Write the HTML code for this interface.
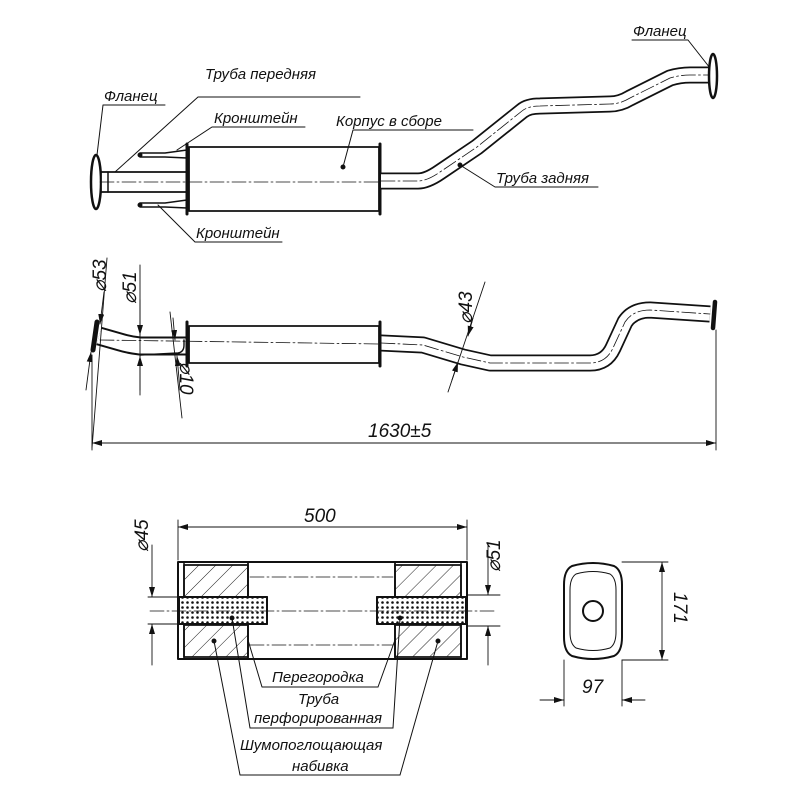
<!DOCTYPE html>
<html><head><meta charset="utf-8"><style>
html,body{margin:0;padding:0;background:#fff}
svg{display:block}
text{font-family:"Liberation Sans",sans-serif;font-style:italic;font-size:15px;fill:#111}
.dm{font-size:19px}
</style></head><body>
<svg width="800" height="800" viewBox="0 0 800 800" xmlns="http://www.w3.org/2000/svg">
<defs>
<marker id="a" viewBox="0 0 10 6" refX="10" refY="3" markerWidth="10" markerHeight="6" orient="auto-start-reverse" markerUnits="userSpaceOnUse"><path d="M0,0 L10,3 L0,6 z" fill="#111"/></marker>
<pattern id="h" width="12" height="12" patternUnits="userSpaceOnUse" patternTransform="rotate(45)"><line x1="0" y1="0" x2="0" y2="12" stroke="#222" stroke-width="1"/></pattern>
<pattern id="d" width="5" height="5" patternUnits="userSpaceOnUse"><circle cx="2.5" cy="2.5" r="1.3" fill="#111"/></pattern>
</defs>
<g fill="none" stroke="#111" stroke-linecap="round" stroke-linejoin="round">

<!-- TOP VIEW -->
<ellipse cx="96" cy="182" rx="5" ry="27" stroke-width="2.5"/>
<rect x="101" y="172" width="86" height="20" stroke-width="1.8" fill="#fff"/>
<line x1="108" y1="172" x2="108" y2="192" stroke-width="1.5"/>
<path d="M140,153 H165 L187,150 M140,157 H165 L187,158" stroke-width="1.4"/>
<circle cx="140" cy="155" r="2" fill="#111"/>
<path d="M140,203 H165 L187,200 M140,207 H165 L187,208" stroke-width="1.4"/>
<circle cx="140" cy="205" r="2" fill="#111"/>
<rect x="189" y="147" width="190" height="64" stroke-width="1.8" fill="#fff"/>
<line x1="187" y1="144" x2="187" y2="214" stroke-width="3"/>
<line x1="380" y1="144" x2="380" y2="214" stroke-width="3"/>
<line x1="100" y1="182" x2="380" y2="182" stroke-width="0.8" stroke-dasharray="14 3 2 3"/>
<g stroke-linecap="butt">
<path d="M381,181 L418,181 Q427,181 440,172 L477,147 L522,111 Q528,106 540,106 L610,104 Q620,104 630,98 L670,78 Q680,75 690,75 L710,75" stroke-width="17"/>
<path d="M381,181 L418,181 Q427,181 440,172 L477,147 L522,111 Q528,106 540,106 L610,104 Q620,104 630,98 L670,78 Q680,75 690,75 L710,75" stroke="#fff" stroke-width="13.5"/>
</g>
<path d="M381,181 L418,181 Q427,181 440,172 L477,147 L522,111 Q528,106 540,106 L610,104 Q620,104 630,98 L670,78 Q680,75 690,75 L710,75" stroke-width="0.8" stroke-dasharray="14 3 2 3"/>
<ellipse cx="713" cy="76" rx="4" ry="22" stroke-width="2.5" fill="#fff"/>

<!-- top leaders -->
<path d="M165,105 H103 L97,155" stroke-width="1"/>
<path d="M360,97 H198 L115,172" stroke-width="1"/>
<path d="M305,127 H212 L177,150" stroke-width="1"/>
<path d="M473,130 H353 L343,167" stroke-width="1"/>
<circle cx="343" cy="167" r="2" fill="#111"/>
<path d="M598,187 H495 L460,165" stroke-width="1"/>
<circle cx="460" cy="165" r="2" fill="#111"/>
<path d="M282,242 H195 L158,205" stroke-width="1"/>
<path d="M632,40 H688 L710,68" stroke-width="1"/>

<!-- MIDDLE VIEW -->
<g stroke-linecap="butt">
<path d="M99,336 L120,342 Q130,345 140,346 L188,346" stroke-width="19"/>
<path d="M99,336 L120,342 Q130,345 140,346 L188,346" stroke="#fff" stroke-width="15"/>
<path d="M381,343 L423,345 L463,357 L490,363 L590,363 Q606,363 613,348 L625,322 Q633,310 650,310 L710,314" stroke-width="17"/>
<path d="M381,343 L423,345 L463,357 L490,363 L590,363 Q606,363 613,348 L625,322 Q633,310 650,310 L710,314" stroke="#fff" stroke-width="13.5"/>
</g>
<line x1="97" y1="322" x2="93" y2="350" stroke-width="5"/>
<path d="M140,355 L178,353 Q184,352 184,345 L184,340" stroke-width="1.4"/>
<rect x="189" y="326" width="190" height="37" stroke-width="1.8" fill="#fff"/>
<line x1="187" y1="322" x2="187" y2="366" stroke-width="3"/>
<line x1="380" y1="322" x2="380" y2="366" stroke-width="3"/>
<line x1="100" y1="340" x2="380" y2="344" stroke-width="0.8" stroke-dasharray="14 3 2 3"/>
<path d="M381,343 L423,345 L463,357 L490,363 L590,363 Q606,363 613,348 L625,322 Q633,310 650,310 L710,314" stroke-width="0.8" stroke-dasharray="14 3 2 3"/>
<line x1="715" y1="302" x2="713" y2="328" stroke-width="4.5"/>

<!-- middle dims -->
<line x1="107" y1="258" x2="92" y2="448" stroke-width="0.9"/>
<path d="M104,292 L100,324" stroke-width="0.9" marker-end="url(#a)"/>
<path d="M86,390 L91,352" stroke-width="0.9" marker-end="url(#a)"/>
<line x1="140" y1="265" x2="140" y2="395" stroke-width="0.9"/>
<path d="M140,300 V335" stroke-width="0.9" marker-end="url(#a)"/>
<path d="M140,390 V356" stroke-width="0.9" marker-end="url(#a)"/>
<line x1="170" y1="312" x2="182" y2="418" stroke-width="0.9"/>
<path d="M173,318 L175,340" stroke-width="0.9" marker-end="url(#a)"/>
<path d="M180,390 L177,356" stroke-width="0.9" marker-end="url(#a)"/>
<line x1="485" y1="282" x2="448" y2="392" stroke-width="0.9"/>
<path d="M473,318 L468,336" stroke-width="0.9" marker-end="url(#a)"/>
<path d="M452,380 L458,362" stroke-width="0.9" marker-end="url(#a)"/>
<line x1="92" y1="355" x2="92" y2="450" stroke-width="0.9"/>
<line x1="716" y1="330" x2="716" y2="450" stroke-width="0.9"/>
<line x1="92" y1="443" x2="716" y2="443" stroke-width="0.9" marker-start="url(#a)" marker-end="url(#a)"/>

<!-- BOTTOM SECTION -->
<rect x="178" y="562" width="289" height="97" stroke-width="2" fill="#fff"/>
<line x1="184" y1="562" x2="184" y2="659" stroke-width="1.5"/>
<line x1="461" y1="562" x2="461" y2="659" stroke-width="1.5"/>
<rect x="184" y="565" width="64" height="32" fill="url(#h)" stroke-width="1.8"/>
<rect x="184" y="625" width="64" height="32" fill="url(#h)" stroke-width="1.8"/>
<rect x="395" y="565" width="66" height="32" fill="url(#h)" stroke-width="1.8"/>
<rect x="395" y="625" width="66" height="32" fill="url(#h)" stroke-width="1.8"/>
<line x1="248" y1="562" x2="248" y2="659" stroke-width="1.8"/>
<line x1="395" y1="562" x2="395" y2="659" stroke-width="1.8"/>
<rect x="179" y="597" width="88" height="27" fill="#fff" stroke-width="2"/>
<rect x="179" y="597" width="88" height="27" fill="url(#d)" stroke-width="2"/>
<rect x="377" y="597" width="89" height="27" fill="#fff" stroke-width="2"/>
<rect x="377" y="597" width="89" height="27" fill="url(#d)" stroke-width="2"/>
<line x1="250" y1="577" x2="393" y2="577" stroke-width="0.8" stroke-dasharray="14 3 2 3"/>
<line x1="250" y1="645" x2="393" y2="645" stroke-width="0.8" stroke-dasharray="14 3 2 3"/>
<line x1="150" y1="611" x2="495" y2="611" stroke-width="0.8" stroke-dasharray="14 3 2 3"/>
<line x1="178" y1="520" x2="178" y2="560" stroke-width="0.9"/>
<line x1="467" y1="520" x2="467" y2="560" stroke-width="0.9"/>
<line x1="178" y1="527" x2="467" y2="527" stroke-width="0.9" marker-start="url(#a)" marker-end="url(#a)"/>
<line x1="148" y1="597" x2="180" y2="597" stroke-width="0.9"/>
<line x1="148" y1="624" x2="180" y2="624" stroke-width="0.9"/>
<path d="M152,545 V597" stroke-width="0.9" marker-end="url(#a)"/>
<path d="M152,665 V624" stroke-width="0.9" marker-end="url(#a)"/>
<line x1="467" y1="595" x2="500" y2="595" stroke-width="0.9"/>
<line x1="467" y1="626" x2="500" y2="626" stroke-width="0.9"/>
<path d="M488,545 V595" stroke-width="0.9" marker-end="url(#a)"/>
<path d="M488,665 V626" stroke-width="0.9" marker-end="url(#a)"/>

<!-- bottom leaders -->
<path d="M378,687 H262 L248,640" stroke-width="1"/>
<path d="M378,687 L395,640" stroke-width="1"/>
<path d="M393,728 H250 L232,618" stroke-width="1"/>
<path d="M393,728 L400,618" stroke-width="1"/>
<path d="M400,775 H240 L214,641" stroke-width="1"/>
<path d="M400,775 L438,641" stroke-width="1"/>
<circle cx="232" cy="618" r="2" fill="#111"/>
<circle cx="400" cy="618" r="2" fill="#111"/>
<circle cx="214" cy="641" r="2" fill="#111"/>
<circle cx="438" cy="641" r="2" fill="#111"/>

<!-- END VIEW -->
<path d="M572,566 Q593,560 614,566 Q622,570 622,585 V637 Q622,652 614,656 Q593,662 572,656 Q564,652 564,637 V585 Q564,570 572,566 Z" stroke-width="2"/>
<path d="M576,574 Q593,569 610,574 Q616,578 616,590 V632 Q616,644 610,648 Q593,653 576,648 Q570,644 570,632 V590 Q570,578 576,574 Z" stroke-width="1"/>
<circle cx="593" cy="611" r="10" stroke-width="2"/>
<line x1="622" y1="562" x2="668" y2="562" stroke-width="0.9"/>
<line x1="622" y1="660" x2="668" y2="660" stroke-width="0.9"/>
<line x1="662" y1="562" x2="662" y2="660" stroke-width="0.9" marker-start="url(#a)" marker-end="url(#a)"/>
<line x1="564" y1="660" x2="564" y2="706" stroke-width="0.9"/>
<line x1="622" y1="660" x2="622" y2="706" stroke-width="0.9"/>
<line x1="540" y1="700" x2="564" y2="700" stroke-width="0.9" marker-end="url(#a)"/>
<line x1="645" y1="700" x2="622" y2="700" stroke-width="0.9" marker-end="url(#a)"/>
</g>

<!-- TEXT -->
<text x="104" y="101">Фланец</text>
<text x="205" y="79">Труба передняя</text>
<text x="214" y="123">Кронштейн</text>
<text x="336" y="126">Корпус в сборе</text>
<text x="496" y="183">Труба задняя</text>
<text x="196" y="238">Кронштейн</text>
<text x="633" y="36">Фланец</text>
<text class="dm" x="368" y="437">1630±5</text>
<text class="dm" transform="translate(106,292) rotate(-90)">⌀53</text>
<text class="dm" transform="translate(136,304) rotate(-90)">⌀51</text>
<text class="dm" transform="translate(472,324) rotate(-90)">⌀43</text>
<text class="dm" transform="translate(180,362) rotate(90)">⌀10</text>
<text class="dm" x="304" y="522">500</text>
<text class="dm" transform="translate(148,552) rotate(-90)">⌀45</text>
<text class="dm" transform="translate(500,572) rotate(-90)">⌀51</text>
<text x="272" y="682">Перегородка</text>
<text x="298" y="704">Труба</text>
<text x="254" y="723">перфорированная</text>
<text x="240" y="750">Шумопоглощающая</text>
<text x="292" y="771">набивка</text>
<text class="dm" transform="translate(674,592) rotate(90)">171</text>
<text class="dm" x="582" y="693">97</text>
</svg>
</body></html>
